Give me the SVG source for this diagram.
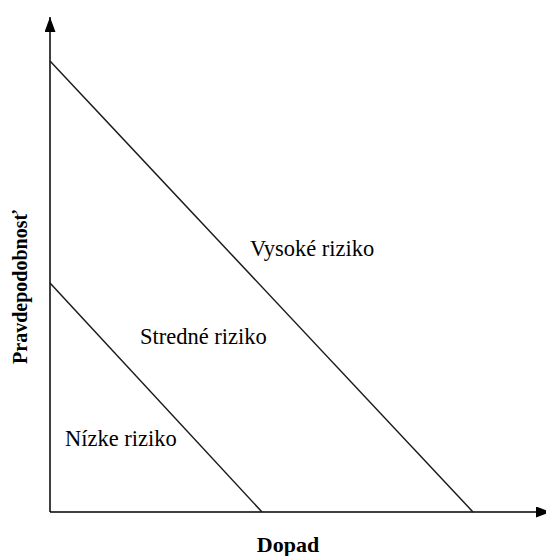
<svg xmlns="http://www.w3.org/2000/svg" width="546" height="556" viewBox="0 0 546 556">
<style>
.ax{stroke:#000;stroke-width:1.5;fill:none}
.ln{stroke:#1a1a1a;stroke-width:1.5;fill:none}
.lbl{font-family:"Liberation Serif","Times New Roman",serif;font-size:22.5px;fill:#000}
.ttl{font-family:"Liberation Serif","Times New Roman",serif;font-weight:bold;fill:#000}
</style>
<defs>
<marker id="ah" viewBox="0 0 15 11" refX="15" refY="5.5" markerWidth="15" markerHeight="11" markerUnits="userSpaceOnUse" orient="auto">
<path d="M0,0 L15,5.5 L0,11 z" fill="#000"/>
</marker>
</defs>
<g id="connectors">
<line id="y-axis" class="ax" x1="50" y1="512" x2="50" y2="17" marker-end="url(#ah)"/>
<line id="x-axis" class="ax" x1="50" y1="512" x2="551" y2="512" marker-end="url(#ah)"/>
<line id="high-boundary" class="ln" x1="50" y1="61" x2="473" y2="512"/>
<line id="low-boundary" class="ln" x1="50" y1="283" x2="262" y2="512"/>
</g>
<g id="vysoke"><text class="lbl" x="250" y="256">Vysoké riziko</text></g>
<g id="stredne"><text class="lbl" x="140" y="344">Stredné riziko</text></g>
<g id="nizke"><text class="lbl" x="65" y="446">Nízke riziko</text></g>
<g id="dopad"><text class="ttl" x="288" y="552" font-size="22" text-anchor="middle">Dopad</text></g>
<g id="pravdepodobnost"><text class="ttl" font-size="20" transform="translate(27,287) rotate(-90)" text-anchor="middle">Pravdepodobnosť</text></g>
</svg>
